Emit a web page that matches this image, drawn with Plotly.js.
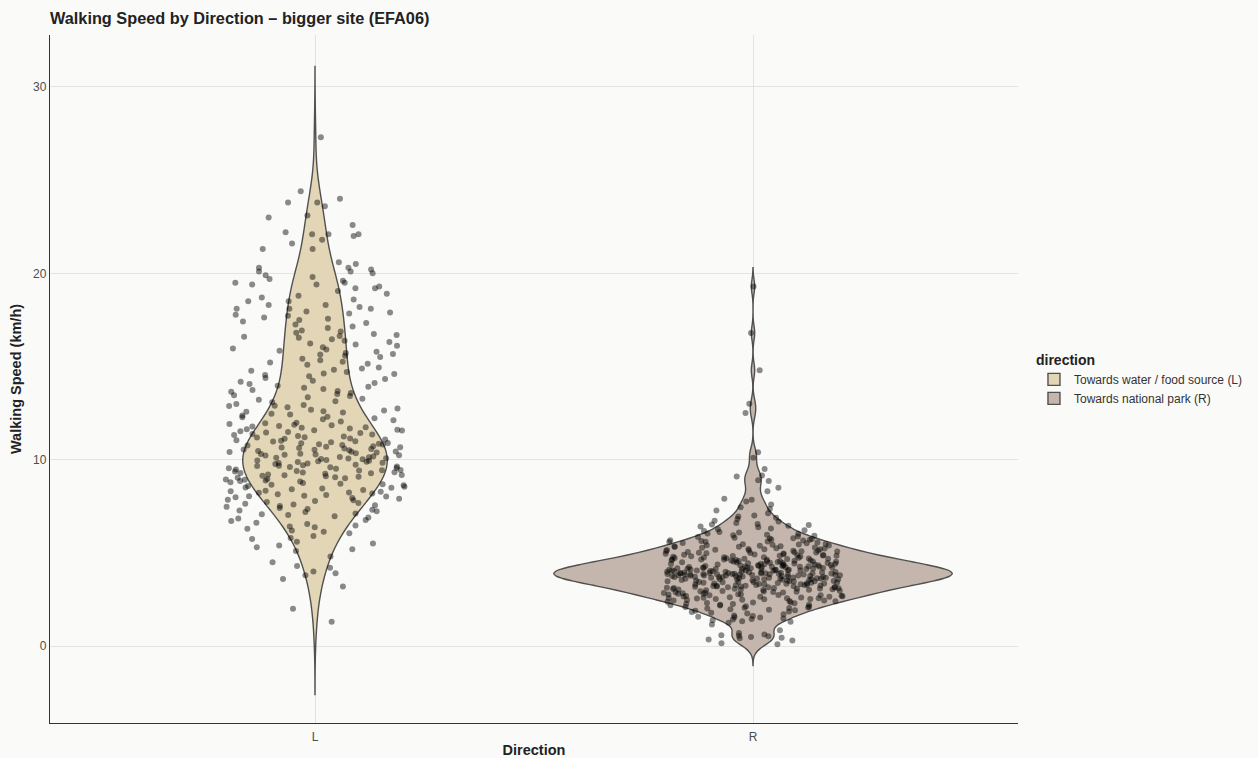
<!DOCTYPE html>
<html><head><meta charset="utf-8">
<script src="https://cdn.plot.ly/plotly-3.0.1.min.js"></script>
<style>html,body{margin:0;padding:0;background:#fafaf9}</style>
</head><body><div id="chart" style="width:1258px;height:758px"></div>
<script>
const categories = ['L', 'R'];
const legendNames = ['Towards water / food source (L)', 'Towards national park (R)'];

const speedL = [
  1.3, 2.0, 3.2, 3.6, 3.8, 3.9, 4.0, 4.2, 4.3, 4.5, 4.8,
  5.1, 5.2, 5.3, 5.4, 5.5, 5.6, 5.75, 5.8, 5.9,
  6.05, 6.38, 6.71, 6.2, 6.9, 6.47, 6.13, 6.62, 6.84, 6.29, 6.55, 6.96, 6.42, 6.77,
  7.03, 7.41, 7.78, 7.19, 7.6, 7.94, 7.27, 7.52, 7.85, 7.11, 7.68, 7.36, 7.9, 7.47, 7.07, 7.73, 7.23, 7.56, 7.82, 7.31, 7.64, 7.98,
  8.04, 8.37, 8.71, 8.19, 8.55, 8.92, 8.28, 8.63, 8.11, 8.46, 8.83, 8.33, 8.68, 8.97, 8.24, 8.51, 8.79, 8.07, 8.42, 8.88, 8.15, 8.59, 8.75, 8.31, 8.94, 8.49, 8.02, 8.66, 8.86, 8.22,
  9.03, 9.42, 9.77, 9.18, 9.56, 9.91, 9.25, 9.63, 9.08, 9.48, 9.84, 9.33, 9.7, 9.96, 9.14, 9.52, 9.87, 9.29, 9.66, 9.01,
  9.39, 9.8, 9.21, 9.59, 9.94, 9.11, 9.45, 9.73, 9.36, 9.99, 9.06, 9.54, 9.82, 9.27, 9.61, 9.17, 9.89, 9.43, 9.68, 9.31,
  10.02, 10.41, 10.76, 10.17, 10.55, 10.9, 10.26, 10.63, 10.08, 10.47, 10.83, 10.32, 10.69, 10.97, 10.13, 10.51, 10.86, 10.28, 10.66, 10.04,
  10.38, 10.79, 10.22, 10.58, 10.93, 10.11, 10.44, 10.72, 10.35, 10.99, 10.06, 10.53, 10.81, 10.24, 10.6, 10.15, 10.88, 10.42, 10.67, 10.3,
  11.04, 11.43, 11.78, 11.19, 11.57, 11.92, 11.27, 11.64, 11.09, 11.49, 11.85, 11.33, 11.71, 11.98, 11.14, 11.52, 11.88, 11.24, 11.61, 11.02,
  11.38, 11.81, 11.21, 11.67, 11.95, 11.12, 11.46, 11.74, 11.35, 11.58,
  12.05, 12.46, 12.81, 12.22, 12.6, 12.94, 12.31, 12.68, 12.12, 12.53, 12.88, 12.37, 12.75, 12.99, 12.17, 12.57, 12.9, 12.28, 12.64, 12.42,
  13.08, 13.52, 13.86, 13.27, 13.65, 13.97, 13.35, 13.74, 13.14, 13.58, 13.91, 13.42, 13.8, 13.21, 13.69, 13.46,
  14.06, 14.48, 14.83, 14.24, 14.62, 14.95, 14.33, 14.71, 14.12, 14.55, 14.89, 14.39, 14.77, 14.18, 14.6,
  15.09, 15.51, 15.85, 15.26, 15.64, 15.97, 15.34, 15.72, 15.15, 15.58, 15.91, 15.41, 15.79, 15.21, 15.67,
  16.04, 16.46, 16.81, 16.23, 16.6, 16.93, 16.31, 16.69, 16.12, 16.54, 16.88, 16.38, 16.75, 16.18, 16.64,
  17.07, 17.49, 17.84, 17.26, 17.63, 17.95, 17.34, 17.72, 17.15, 17.56, 17.9, 17.41, 17.78,
  18.1, 18.1, 18.1, 18.2, 18.3, 18.3, 18.5, 18.5, 18.6, 18.7, 18.8, 18.9,
  19.05, 19.2, 19.2, 19.3, 19.4, 19.4, 19.5, 19.5, 19.6, 19.7, 19.8, 19.9,
  20.0, 20.1, 20.1, 20.2, 20.3, 20.3, 20.5, 20.6,
  21.3, 21.3, 21.6, 21.8,
  22.0, 22.1, 22.1, 22.1, 22.2, 22.6,
  23.0, 23.1, 23.6, 23.8, 23.8,
  24.0, 24.4, 27.3
];

const speedR = [
  0.1, 0.42, 0.15, 0.35, 0.48, 0.3, 0.45,
  0.52, 0.7, 0.58, 0.85, 0.62, 0.55,
  1.15, 1.42, 1.3, 1.48, 1.25, 1.38, 1.45, 1.33,
  1.53, 1.78, 1.64, 1.92, 1.57, 1.85, 1.7, 1.97, 1.61, 1.82, 1.74, 1.89, 1.55, 1.95,
  2.04, 2.31, 2.17, 2.45, 2.09, 2.38, 2.22, 2.49, 2.02, 2.27, 2.13, 2.42, 2.35, 2.07, 2.25, 2.47, 2.19, 2.33, 2.11, 2.4, 2.29, 2.05, 2.44, 2.21,
  2.53, 2.78, 2.64, 2.91, 2.57, 2.85, 2.69, 2.96, 2.51, 2.74, 2.88, 2.6, 2.81, 2.67, 2.94, 2.55, 2.72, 2.99, 2.62, 2.83,
  2.58, 2.9, 2.7, 2.77, 2.52, 2.86, 2.65, 2.93, 2.76, 2.59, 2.8, 2.97, 2.66, 2.87, 2.73, 2.56,
  3.03, 3.27, 3.14, 3.41, 3.08, 3.35, 3.2, 3.47, 3.01, 3.31, 3.16, 3.44, 3.1, 3.38, 3.24, 3.05, 3.29, 3.49, 3.12, 3.36,
  3.21, 3.43, 3.07, 3.33, 3.18, 3.46, 3.02, 3.26, 3.4, 3.13, 3.37, 3.09, 3.3, 3.48, 3.15, 3.23, 3.42, 3.06, 3.34, 3.19,
  3.45, 3.11, 3.28, 3.39, 3.04, 3.25, 3.47, 3.17, 3.32, 3.22,
  3.87, 3.62, 3.95, 3.71, 3.54, 3.83, 3.9, 3.66, 3.78, 3.58, 3.92, 3.74, 3.81, 3.69, 3.98, 3.51, 3.86, 3.77, 3.63, 3.89,
  3.72, 3.94, 3.56, 3.8, 3.68, 3.85, 3.91, 3.6, 3.76, 3.83, 3.53, 3.97, 3.88, 3.7, 3.64, 3.79, 3.93, 3.57, 3.84, 3.75,
  3.9, 3.67, 3.82, 3.99, 3.59, 3.73, 3.86, 3.61, 3.96, 3.78, 3.52, 3.88, 3.65, 3.81, 3.92, 3.7, 3.55, 3.85, 3.76, 3.94,
  3.63, 3.89, 3.8, 3.72, 3.58, 3.91, 3.84, 3.67,
  4.02, 4.31, 4.15, 4.44, 4.08, 4.27, 4.19, 4.38, 4.05, 4.22, 4.47, 4.11, 4.34, 4.01, 4.25, 4.4, 4.13, 4.29, 4.06, 4.36,
  4.18, 4.49, 4.09, 4.23, 4.42, 4.03, 4.32, 4.16, 4.45, 4.12, 4.26, 4.07, 4.39, 4.2, 4.04, 4.33, 4.14, 4.46, 4.24, 4.1,
  4.37, 4.17, 4.28, 4.43, 4.02, 4.21, 4.35, 4.09, 4.3, 4.48, 4.13, 4.26, 4.05, 4.41, 4.19, 4.34, 4.07, 4.23,
  4.52, 4.71, 4.88, 4.6, 4.95, 4.55, 4.77, 4.64, 4.83, 4.58, 4.91, 4.67, 4.74, 4.51, 4.86, 4.62, 4.98, 4.7, 4.57, 4.8,
  4.65, 4.93, 4.54, 4.76, 4.85, 4.61, 4.69, 4.9, 4.53, 4.79, 4.66, 4.96, 4.59, 4.73, 4.87, 4.63, 4.82, 4.56, 4.99, 4.68,
  4.75, 4.84,
  5.03, 5.21, 5.38, 5.12, 5.46, 5.07, 5.29, 5.17, 5.41, 5.01, 5.33, 5.24, 5.1, 5.48, 5.15, 5.36, 5.05, 5.27, 5.43, 5.19,
  5.09, 5.31, 5.4, 5.13, 5.25, 5.02, 5.35, 5.2, 5.45, 5.11,
  5.52, 5.74, 5.61, 5.88, 5.56, 5.97, 5.68, 5.81, 5.53, 5.7, 5.92, 5.64, 5.77, 5.58, 5.85, 5.66, 5.95, 5.6, 5.79, 5.72,
  6.04, 6.31, 6.17, 6.45, 6.09, 6.38, 6.22, 6.49, 6.12, 6.27, 6.41, 6.02,
  6.55, 6.82, 6.68, 6.95, 6.6, 6.88, 6.73, 6.52,
  7.0, 7.35, 7.12, 7.45, 7.28,
  7.6, 7.9, 7.75, 7.85,
  8.3, 8.85, 8.5, 8.9,
  9.1, 9.15, 9.5,
  10.1, 10.4,
  12.5, 13.0, 14.8, 16.8, 19.3
];

const fills = ['#e2d6b7', '#c4b6ac'];
const bandwidths = [1.35, 0.38];
const spans = [[-2.6, 31.1], [-1.05, 20.3]];
const violinWidths = [0.33, 0.91];
const series = [speedL, speedR];

const traces = [];
categories.forEach((cat, i) => {
  traces.push({
    type: 'violin', x0: cat, y: series[i], name: legendNames[i],
    legendgroup: cat, fillcolor: fills[i], opacity: 1,
    line: {color: '#505050', width: 1.4},
    points: false, box: {visible: false}, meanline: {visible: false},
    bandwidth: bandwidths[i], spanmode: 'manual', span: spans[i],
    width: violinWidths[i], scalemode: 'width', hoverinfo: 'skip'
  });
});
categories.forEach((cat, i) => {
  traces.push({
    type: 'box', x0: cat, y: series[i], name: legendNames[i],
    legendgroup: cat, showlegend: false,
    boxpoints: 'all', jitter: 1, pointpos: 0, width: 0.41, whiskerwidth: 0,
    fillcolor: 'rgba(0,0,0,0)', line: {width: 0, color: 'rgba(0,0,0,0)'},
    marker: {color: 'rgba(0,0,0,0.45)', size: 6, line: {width: 0}},
    hoverinfo: 'y'
  });
});

const layout = {
  width: 1258, height: 758,
  paper_bgcolor: '#fafaf9', plot_bgcolor: '#fafaf9',
  margin: {l: 50, r: 240, t: 35, b: 35, autoexpand: false},
  font: {family: 'Liberation Sans, Arial, sans-serif', color: '#333333'},
  title: {
    text: 'Walking Speed by Direction – bigger site (EFA06)',
    font: {size: 16.3, weight: 'bold', color: '#222222'},
    xref: 'paper', x: 0, xanchor: 'left', yref: 'container', y: 0.976, yanchor: 'middle'
  },
  violinmode: 'overlay', boxmode: 'overlay',
  xaxis: {
    type: 'category', categoryorder: 'array', categoryarray: categories,
    range: [-0.605, 1.605], showgrid: true, gridcolor: '#e3e3e3', gridwidth: 1,
    showline: true, linecolor: '#333333', linewidth: 1.2, ticks: '', zeroline: false,
    tickfont: {size: 12, color: '#4d4d4d'}, ticklabelstandoff: 2,
    title: {text: 'Direction', font: {size: 14.5, weight: 'bold', color: '#222222'}, standoff: 5}
  },
  yaxis: {
    range: [-4.13, 32.79], tick0: 0, dtick: 10, showgrid: true, gridcolor: '#e3e3e3', gridwidth: 1,
    showline: true, linecolor: '#333333', linewidth: 1.2, ticks: '', zeroline: false,
    tickfont: {size: 12, color: '#4d4d4d'},
    title: {text: 'Walking Speed (km/h)', font: {size: 14.5, weight: 'bold', color: '#222222'}, standoff: 8}
  },
  legend: {
    x: 1.0165, xanchor: 'left', y: 0.547, yanchor: 'top',
    bgcolor: 'rgba(0,0,0,0)', font: {size: 12, color: '#333333'},
    title: {text: 'direction', font: {size: 14, weight: 'bold', color: '#222222'}},
    tracegroupgap: 0
  },
  showlegend: true
};

Plotly.newPlot('chart', traces, layout, {displayModeBar: false, staticPlot: true});
</script>
</body></html>
